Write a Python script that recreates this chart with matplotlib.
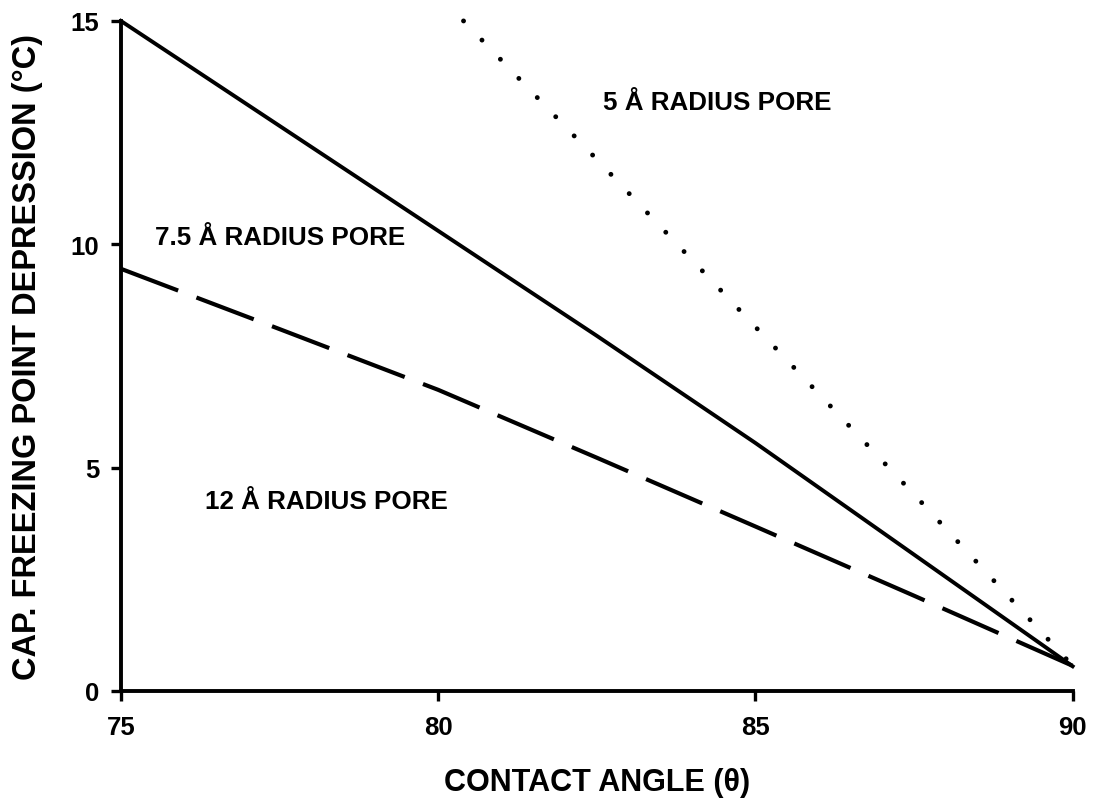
import matplotlib
matplotlib.use("Agg")
import matplotlib.pyplot as plt

plt.rcParams['font.family'] = ['Liberation Sans', 'DejaVu Sans']
plt.rcParams['font.weight'] = 'bold'

# contact angle (deg) vs capillary freezing point depression (deg C)
angle_75 = [75, 77.5, 80, 82.5, 85, 87.5, 90]
depr_75 = [15.0, 12.65, 10.3, 7.95, 5.55, 3.05, 0.55]    # 7.5 A pore, solid

angle_12 = [75, 77.5, 80, 82.5, 85, 87.5, 90]
depr_12 = [9.45, 8.1, 6.74, 5.22, 3.68, 2.13, 0.56]      # 12 A pore, dashed

angle_5 = [80.4, 82.5, 85, 87.5, 90]
depr_5 = [15.0, 11.9, 8.15, 4.4, 0.56]                   # 5 A pore, dotted

x_ticks = [75, 80, 85, 90]
y_ticks = [0, 5, 10, 15]

fig = plt.figure(figsize=(10.99, 8.12), dpi=100)
ax = fig.add_axes([0.110, 0.148, 0.866, 0.825])

ax.plot(angle_75, depr_75, color='black', lw=2.8, clip_on=False)
ax.plot(angle_12, depr_12, color='black', lw=3.0, linestyle=(0, (14.7, 4.7)),
        clip_on=False)
ax.plot(angle_5, depr_5, color='black', lw=3.5, linestyle=(0, (0.01, 5.46)),
        dash_capstyle='round', clip_on=False)

ax.text(82.6, 13.19, '5 Å RADIUS PORE', fontsize=18.7, fontweight='bold',
        ha='left', va='center')
ax.text(75.53, 10.16, '7.5 Å RADIUS PORE', fontsize=18.7, fontweight='bold',
        ha='left', va='center')
ax.text(76.33, 4.26, '12 Å RADIUS PORE', fontsize=18.7, fontweight='bold',
        ha='left', va='center')

ax.set_xlim(75, 90)
ax.set_ylim(0, 15)
ax.set_xticks(x_ticks)
ax.set_yticks(y_ticks)
ax.tick_params(axis='both', direction='out', length=7.5, width=2.4,
               labelsize=18.5)
ax.tick_params(axis='x', pad=10)
ax.tick_params(axis='y', pad=8)
for lab in ax.get_xticklabels() + ax.get_yticklabels():
    lab.set_fontweight('bold')

ax.spines['top'].set_visible(False)
ax.spines['right'].set_visible(False)
ax.spines['left'].set_linewidth(2.8)
ax.spines['bottom'].set_linewidth(2.8)

ax.set_xlabel('CONTACT ANGLE (θ)', fontsize=22, fontweight='bold', labelpad=20)
ax.set_ylabel('CAP. FREEZING POINT DEPRESSION (°C)', fontsize=23.5,
              fontweight='bold', labelpad=20)

fig.savefig('out.png', dpi=100)
